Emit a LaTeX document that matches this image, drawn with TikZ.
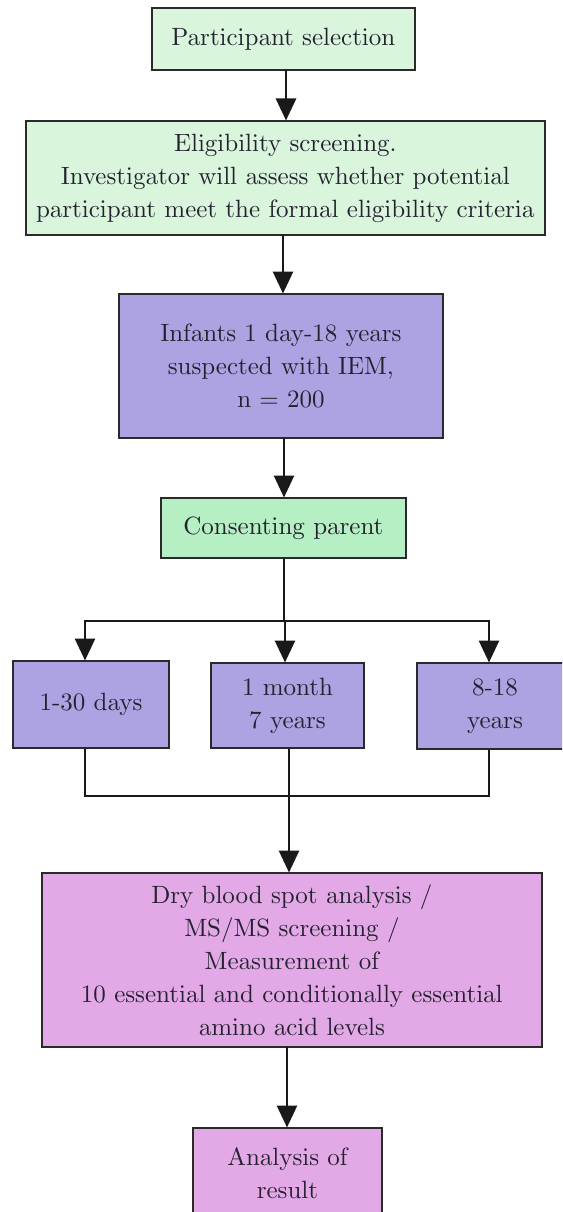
\documentclass[tikz,border=0pt]{standalone}
\usetikzlibrary{arrows.meta}
\font\boxfont=cmr10 at 25pt
\definecolor{lgreen}{HTML}{D9F6DD}
\definecolor{mgreen}{HTML}{B5EFC3}
\definecolor{lpurple}{HTML}{ADA3E3}
\definecolor{lpink}{HTML}{E3A9E7}
\definecolor{edge}{HTML}{2A2A2A}
\definecolor{txt}{HTML}{24222F}
\tikzset{
  box/.style={draw=edge, line width=2pt, align=center, text=txt, inner sep=0pt,
    font={\fontsize{25}{33}\selectfont\boxfont}},
  conn/.style={draw=black!90, line width=2.8pt},
  arr/.style={conn, -{Triangle[length=22pt,width=20pt]}, shorten >=-0.5pt}
}
\begin{document}
\begin{tikzpicture}[x=1pt,y=-1pt]
\useasboundingbox (0,0) rectangle (562,1212);
\fill[white] (0,0) rectangle (562,1212);
\clip (0,0) rectangle (562,1212);
\node[box, fill=lgreen, minimum width=263pt, minimum height=62pt] (sel) at (283.5,39) {Participant selection};
\node[box, fill=lgreen, minimum width=519pt, minimum height=114pt] (elig) at (285.5,178) {Eligibility screening.\\Investigator will assess whether potential\\participant meet the formal eligibility criteria};
\node[box, fill=lpurple, minimum width=324pt, minimum height=144pt] (inf) at (281,366) {Infants 1 day-18 years\\suspected with IEM,\\n = 200};
\node[box, fill=mgreen, minimum width=245pt, minimum height=60pt] (cons) at (283.5,528) {Consenting parent};
\node[box, fill=lpurple, minimum width=156pt, minimum height=87pt] (d1) at (91,704.5) {1-30 days};
\node[box, fill=lpurple, minimum width=153pt, minimum height=85pt] (d2) at (287.5,705.5) {1 month\\7 years};
\node[box, fill=lpurple, minimum width=156pt, minimum height=86pt] (d3) at (495,706) {8-18\\years};
\node[box, fill=lpink, minimum width=500pt, minimum height=174pt] (dry) at (292,960) {Dry blood spot analysis /\\MS/MS screening /\\Measurement of\\10 essential and conditionally essential\\amino acid levels};
\node[box, fill=lpink, minimum width=189pt, minimum height=90pt] (res) at (287.5,1173) {Analysis of\\result};
% junction coordinates
\coordinate (tc) at (284,621);
\coordinate (tl) at (85,621);
\coordinate (tr) at (489,621);
\coordinate (bl) at (85,796);
\coordinate (bc) at (289,796);
\coordinate (br) at (489,796);
% connectors
\draw[arr] (286,70) coordinate (s1) -- (s1 |- elig.north);
\draw[arr] (283,235) coordinate (s2) -- (s2 |- inf.north);
\draw[arr] (284,438) coordinate (s3) -- (s3 |- cons.north);
\draw[conn] (tc |- cons.south) -- (tc);
\draw[conn, line cap=rect] (tl) -- (tr);
\draw[arr] (tl) -- (tl |- d1.north);
\draw[arr] (285,621) coordinate (tm) -- (tm |- d2.north);
\draw[arr] (tr) -- (tr |- d3.north);
\draw[conn] (bl |- d1.south) -- (bl);
\draw[conn] (bc |- d2.south) -- (bc);
\draw[conn] (br |- d3.south) -- (br);
\draw[conn, line cap=rect] (bl) -- (br);
\draw[arr] (bc) -- (bc |- dry.north);
\draw[arr] (287,1047) coordinate (s4) -- (s4 |- res.north);
\end{tikzpicture}
\end{document}
